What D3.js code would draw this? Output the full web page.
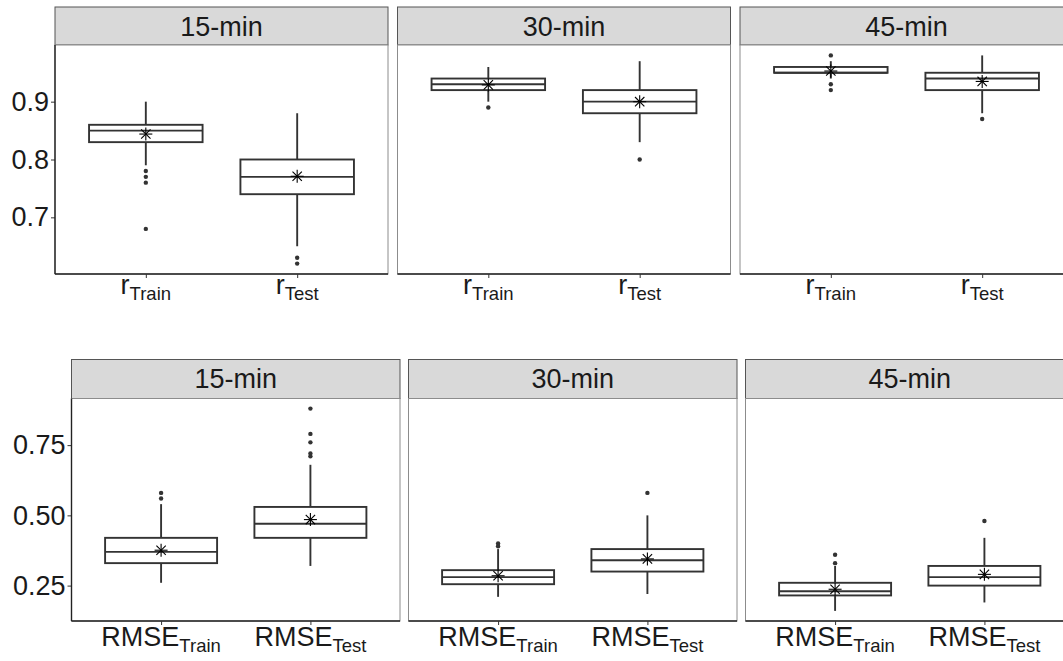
<!DOCTYPE html>
<html>
<head>
<meta charset="utf-8">
<script src="https://cdn.jsdelivr.net/npm/d3@7"></script>
<style>
  html, body { margin: 0; padding: 0; background: #fff; }
  svg { display: block; font-family: "Liberation Sans", Arial, Helvetica, sans-serif; }
</style>
</head>
<body>
<svg id="chart" width="1063" height="661"></svg>
<script>
// Forecast horizons (facets) and data splits (x categories)
const horizons = ["15-min", "30-min", "45-min"];
const splits = ["Train", "Test"];

// Correlation coefficient r: box-plot summaries per horizon, [Train, Test]
const rWhiskerLow  = [[0.79, 0.65], [0.90, 0.83], [0.94, 0.88]];
const rQ1          = [[0.83, 0.74], [0.92, 0.88], [0.95, 0.92]];
const rMedian      = [[0.85, 0.77], [0.93, 0.90], [0.95, 0.94]];
const rQ3          = [[0.86, 0.80], [0.94, 0.92], [0.96, 0.95]];
const rWhiskerHigh = [[0.90, 0.88], [0.96, 0.97], [0.97, 0.98]];
const rMean        = [[0.844, 0.771], [0.929, 0.900], [0.953, 0.935]];
const rOutliers    = [
  [[0.78, 0.77, 0.76, 0.68], [0.63, 0.62]],
  [[0.89], [0.80]],
  [[0.98, 0.93, 0.92], [0.87]]
];
const rTicks = [0.7, 0.8, 0.9];

// RMSE: box-plot summaries per horizon, [Train, Test]
const rmseWhiskerLow  = [[0.26, 0.32], [0.21, 0.22], [0.16, 0.19]];
const rmseQ1          = [[0.33, 0.42], [0.255, 0.30], [0.215, 0.25]];
const rmseMedian      = [[0.37, 0.47], [0.28, 0.34], [0.23, 0.28]];
const rmseQ3          = [[0.42, 0.53], [0.305, 0.38], [0.26, 0.32]];
const rmseWhiskerHigh = [[0.54, 0.68], [0.38, 0.50], [0.32, 0.42]];
const rmseMean        = [[0.376, 0.485], [0.285, 0.345], [0.237, 0.290]];
const rmseOutliers    = [
  [[0.58, 0.56], [0.88, 0.79, 0.76, 0.72, 0.71]],
  [[0.40, 0.39], [0.58]],
  [[0.36, 0.33], [0.48]]
];
const rmseTicks = [0.25, 0.50, 0.75];

// Assemble per-row records from the arrays above
function buildRow(lo, q1, med, q3, hi, mean, out) {
  return horizons.map((h, i) => splits.map((s, j) => ({
    split: s, lo: lo[i][j], q1: q1[i][j], med: med[i][j], q3: q3[i][j],
    hi: hi[i][j], mean: mean[i][j], out: out[i][j]
  })));
}

const rows = [
  {
    metric: "r",
    data: buildRow(rWhiskerLow, rQ1, rMedian, rQ3, rWhiskerHigh, rMean, rOutliers),
    ticks: rTicks, fmt: d3.format(".1f"),
    panelX: [55, 397.5, 740], panelW: 333,
    stripTop: 7, plotTop: 45, plotBottom: 274,
    stripBaseline: 36, labelBaseline: 294
  },
  {
    metric: "RMSE",
    data: buildRow(rmseWhiskerLow, rmseQ1, rmseMedian, rmseQ3, rmseWhiskerHigh, rmseMean, rmseOutliers),
    ticks: rmseTicks, fmt: d3.format(".2f"),
    panelX: [71.5, 408.5, 745.5], panelW: 328.5,
    stripTop: 359.5, plotTop: 398.5, plotBottom: 621,
    stripBaseline: 388, labelBaseline: 646
  }
];

const svg = d3.select("#chart");
const boxColor = "#333333";
const fontMain = 27, fontSub = 18.5;

rows.forEach(row => {
  // Shared y scale for the row, with 5% padding on the data range
  const all = row.data.flat().flatMap(d => [d.lo, d.hi, ...d.out]);
  const ext = d3.extent(all);
  const pad = (ext[1] - ext[0]) * 0.05;
  const y = d3.scaleLinear()
    .domain([ext[0] - pad, ext[1] + pad])
    .range([row.plotBottom, row.plotTop]);

  row.data.forEach((panelData, pi) => {
    const x0 = row.panelX[pi];
    const w = row.panelW;
    const g = svg.append("g");

    const x = d3.scalePoint().domain(splits).range([x0, x0 + w]).padding(0.6);
    const boxW = x.step() * 0.75;

    // Strip
    g.append("rect")
      .attr("x", x0).attr("y", row.stripTop)
      .attr("width", w).attr("height", row.plotTop - row.stripTop)
      .attr("fill", "#d9d9d9").attr("stroke", "#555").attr("stroke-width", 1);
    g.append("text")
      .attr("x", x0 + w / 2).attr("y", row.stripBaseline)
      .attr("text-anchor", "middle")
      .attr("font-size", fontMain).attr("fill", "#1a1a1a")
      .text(horizons[pi]);

    // Panel background and border
    g.append("rect")
      .attr("x", x0).attr("y", row.plotTop)
      .attr("width", w).attr("height", row.plotBottom - row.plotTop)
      .attr("fill", "#fff").attr("stroke", "#8c8c8c").attr("stroke-width", 1);

    // Bottom axis with category ticks
    g.append("line")
      .attr("x1", x0).attr("x2", x0 + w)
      .attr("y1", row.plotBottom).attr("y2", row.plotBottom)
      .attr("stroke", "#222").attr("stroke-width", 1.4);
    const xAxis = d3.axisBottom(x).tickSize(4).tickFormat("");
    const xg = g.append("g").attr("transform", `translate(0,${row.plotBottom})`).call(xAxis);
    xg.select(".domain").remove();
    xg.selectAll(".tick line").attr("stroke", "#333").attr("stroke-width", 1);

    // Category labels: metric with subscripted split name
    splits.forEach(s => {
      const t = g.append("text")
        .attr("x", x(s)).attr("y", row.labelBaseline)
        .attr("text-anchor", "middle").attr("fill", "#1a1a1a");
      t.append("tspan").attr("font-size", fontMain).text(row.metric);
      t.append("tspan").attr("font-size", fontSub).attr("dy", 6).text(s);
    });

    // Left axis on the first panel of each row
    if (pi === 0) {
      const yAxis = d3.axisLeft(y).tickValues(row.ticks).tickFormat(row.fmt).tickSize(4).tickPadding(2);
      const yg = g.append("g").attr("transform", `translate(${x0},0)`).call(yAxis);
      yg.select(".domain").remove();
      yg.selectAll(".tick line").attr("stroke", "#333");
      yg.selectAll(".tick text")
        .attr("font-size", fontMain).attr("fill", "#1a1a1a")
        .attr("font-family", "'Liberation Sans', Arial, sans-serif");
      g.append("line")
        .attr("x1", x0).attr("x2", x0)
        .attr("y1", row.plotTop).attr("y2", row.plotBottom)
        .attr("stroke", "#222").attr("stroke-width", 1.4);
    }

    // Boxes
    panelData.forEach(d => {
      const cx = x(d.split);
      // whiskers
      g.append("line").attr("x1", cx).attr("x2", cx)
        .attr("y1", y(d.q3)).attr("y2", y(d.hi))
        .attr("stroke", boxColor).attr("stroke-width", 1.9);
      g.append("line").attr("x1", cx).attr("x2", cx)
        .attr("y1", y(d.q1)).attr("y2", y(d.lo))
        .attr("stroke", boxColor).attr("stroke-width", 1.9);
      // box
      g.append("rect")
        .attr("x", cx - boxW / 2).attr("y", y(d.q3))
        .attr("width", boxW).attr("height", y(d.q1) - y(d.q3))
        .attr("fill", "#fff").attr("stroke", boxColor).attr("stroke-width", 1.9);
      // median
      g.append("line")
        .attr("x1", cx - boxW / 2).attr("x2", cx + boxW / 2)
        .attr("y1", y(d.med)).attr("y2", y(d.med))
        .attr("stroke", boxColor).attr("stroke-width", 1.9);
      // outliers
      g.selectAll(null).data(d.out).enter().append("circle")
        .attr("cx", cx).attr("cy", v => y(v)).attr("r", 2.2)
        .attr("fill", boxColor);
      // mean marker (eight-armed asterisk)
      const my = y(d.mean), r = 6.5, rd = r * 0.72;
      const star = g.append("g").attr("stroke", "#000").attr("stroke-width", 1.1);
      [[-r, 0, r, 0], [0, -r, 0, r], [-rd, -rd, rd, rd], [-rd, rd, rd, -rd]].forEach(s => {
        star.append("line")
          .attr("x1", cx + s[0]).attr("y1", my + s[1])
          .attr("x2", cx + s[2]).attr("y2", my + s[3]);
      });
    });
  });
});
</script>
</body>
</html>
